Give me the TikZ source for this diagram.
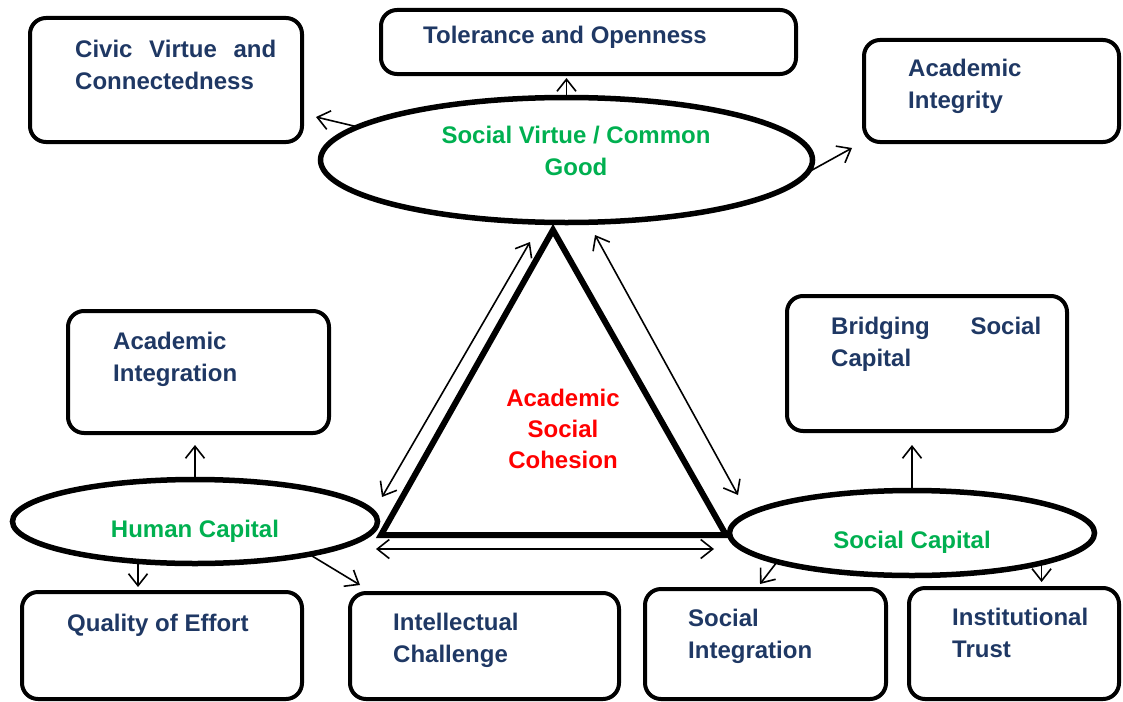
\documentclass[tikz,border=0pt]{standalone}
\usepackage{fontspec}
\setmainfont{Liberation Sans}
\usetikzlibrary{shapes.geometric,arrows.meta,calc}
\definecolor{navy}{RGB}{31,56,100}
\definecolor{vgreen}{RGB}{0,176,80}
\definecolor{vred}{RGB}{255,0,0}
\begin{document}
\begin{tikzpicture}[x=1pt,y=-1pt,
  box/.style={draw, line width=4pt, rounded corners=16pt, inner sep=0pt, outer sep=0pt},
  oval/.style={draw, ellipse, line width=5.5pt, inner sep=0pt, outer sep=0pt},
  txt/.style={font=\fontsize{24}{32}\selectfont\bfseries, text=navy, inner sep=0pt, anchor=base west, align=left},
  gtxt/.style={font=\fontsize{24}{32}\selectfont\bfseries, text=vgreen, inner sep=0pt, anchor=base, align=center},
  rtxt/.style={font=\fontsize{24}{31}\selectfont\bfseries, text=vred, inner sep=0pt, anchor=base, align=center},
  arr/.style={-{Straight Barb[length=12pt,width=19pt]}, line width=1.6pt},
  dbl/.style={{Straight Barb[length=12pt,width=19pt]}-{Straight Barb[length=12pt,width=19pt]}, line width=1.6pt},
  tri/.style={draw, line width=6pt, line join=miter}]
\useasboundingbox (0,0) rectangle (1123,701);

% boxes
\node[box, minimum width=272pt, minimum height=124pt] (civic) at (166,80) {};
\node[box, minimum width=415pt, minimum height=64pt] (tol) at (588.5,42) {};
\node[box, minimum width=255pt, minimum height=102pt] (integ) at (991.5,91) {};
\node[box, minimum width=261pt, minimum height=122pt] (acint) at (198.5,372) {};
\node[box, minimum width=280pt, minimum height=135pt] (bridge) at (927,363.5) {};
\node[box, minimum width=280pt, minimum height=107pt] (qual) at (162,645.5) {};
\node[box, minimum width=269pt, minimum height=106pt] (intel) at (484.5,646) {};
\node[box, minimum width=241pt, minimum height=110pt] (socint) at (765.5,644) {};
\node[box, minimum width=210pt, minimum height=111pt] (trust) at (1014,643.5) {};

% ellipses
\node[oval, minimum width=492pt, minimum height=125pt] (top) at (566.5,160) {};
\node[oval, minimum width=365pt, minimum height=84pt] (hc) at (195,521.5) {};
\node[oval, minimum width=365pt, minimum height=85pt] (sc) at (912,533) {};

% triangle
\coordinate (apex) at (553,230);
\coordinate (bl) at (381,535);
\coordinate (br) at (726,535);
\draw[tri] (apex) -- (bl) -- (br) -- cycle;

% texts (multi-line nodes are placed by the baseline of their last line)
\node[txt] (civict) at (75,89) {\hbox to 201pt{Civic\hfill Virtue\hfill and}\\Connectedness};
\node[txt] (tolt) at (423,44) {Tolerance and Openness};
\node[txt] (integt) at (908,108) {Academic\\Integrity};
\node[gtxt] (topt) at (576,175) {Social Virtue / Common\\Good};
\node[rtxt] (trit) at (563,468) {Academic\\Social\\Cohesion};
\node[txt] (acintt) at (113,381) {Academic\\Integration};
\node[gtxt] (hct) at (195,537) {Human Capital};
\node[txt] (bridget) at (831,366) {\hbox to 210pt{Bridging\hfill Social}\\Capital};
\node[gtxt] (sct) at (912,548) {Social Capital};
\node[txt] (qualt) at (67,631) {Quality of Effort};
\node[txt] (intelt) at (393,662) {Intellectual\\Challenge};
\node[txt] (socintt) at (688,658) {Social\\Integration};
\node[txt] (trustt) at (952,657) {Institutional\\Trust};

% arrow end points
\coordinate (cvin) at (316,117);
\coordinate (igin) at (852,148);
\coordinate (icin) at (360,585);
\coordinate (siin) at (760,584);
\coordinate (la) at (530,242);
\coordinate (lb) at (382,497);
\coordinate (ra) at (595,235);
\coordinate (rb) at (738,495);
\coordinate (ba) at (376,549);
\coordinate (bb) at (714,549);

% connectors
\draw[arr, shorten >=4pt] (top.north) -- (top.north |- tol.south);
\draw[arr] (top.171) -- (cvin);
\draw[arr] (top.-3) -- (igin);
\draw[arr, shorten >=12pt] (hc.north) -- (hc.north |- acint.south);
\draw[arr, shorten >=5pt] (hc.-145) -- (hc.-145 |- qual.north);
\draw[arr] (hc.-16) -- (icin);
\draw[arr, shorten >=14pt] (sc.north) -- (sc.north |- bridge.south);
\draw[arr] (sc.-168) -- (siin);
\draw[arr, shorten >=6pt] (sc.-13) -- (sc.-13 |- trust.north);
\draw[dbl] (la) -- (lb);
\draw[dbl] (ra) -- (rb);
\draw[dbl] (ba) -- (bb);
\end{tikzpicture}
\end{document}
